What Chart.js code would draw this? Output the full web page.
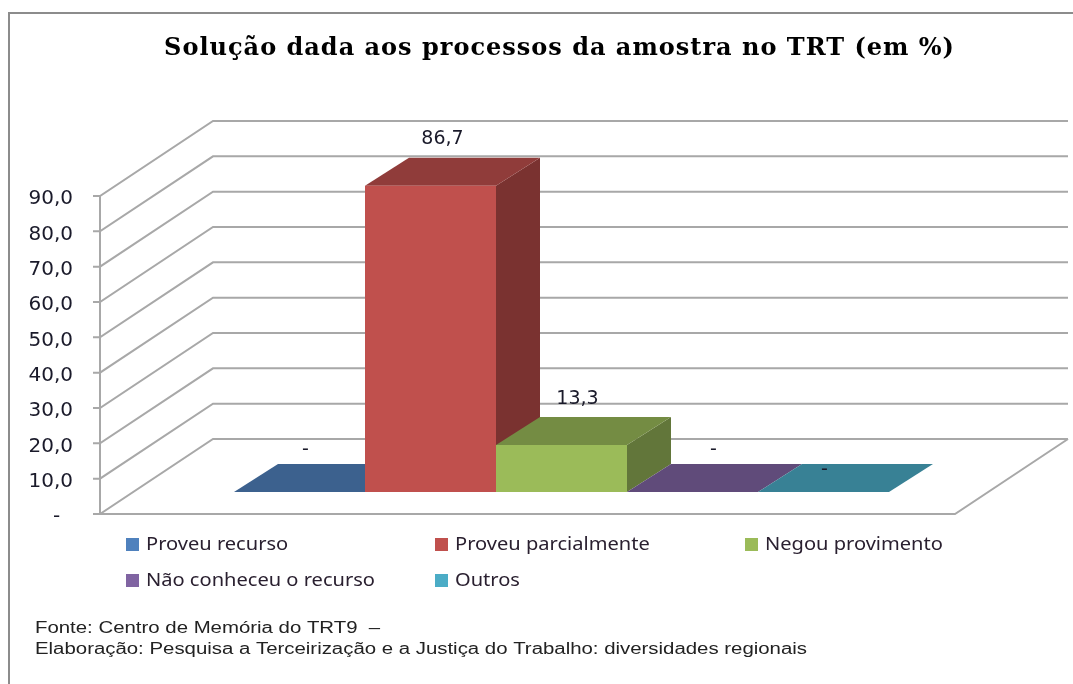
<!DOCTYPE html>
<html><head><meta charset="utf-8">
<style>html,body{margin:0;padding:0;background:#fff}canvas{display:block}</style>
<script src="https://cdn.jsdelivr.net/npm/chart.js@4/dist/chart.umd.min.js"></script>
</head><body><canvas id="c" width="1073" height="684"></canvas>
<script>
const categories = ["Amostra"];
const seriesNames = ["Proveu recurso","Proveu parcialmente","Negou provimento","Não conheceu o recurso","Outros"];
const seriesValues = [0, 86.7, 13.3, 0, 0];
const valueLabels = ["-","86,7","13,3","-","-"];
const frontColors = ["#4F81BD","#C0504D","#9BBB59","#8064A2","#4BACC6"];
const topColors = ["#3C618E","#903C3A","#748C43","#604B7A","#388195"];
const sideColors = ["#325176","#7A3230","#62763A","#503F66","#2F6C7C"];
const titleText = "Solução dada aos processos da amostra no TRT (em %)";
const sourceLines = ["Fonte: Centro de Memória do TRT9  –","Elaboração: Pesquisa a Terceirização e a Justiça do Trabalho: diversidades regionais"];

const DX = 113, DY = 75;          // depth of the 3D box
const BX = 34, BY = 22;           // offset of bar fronts inside the box
const BDX = 44, BDY = 28;         // depth of each bar
const labelOffset = [[6,-42],[12,-47],[16,-46],[21,-42],[1,-22]];
const LINE = "#a8a8a8";
const legendPos = [[126,545],[435,545],[745,545],[126,581],[435,581]];

function poly(ctx, pts, fill){
  ctx.fillStyle = fill; ctx.beginPath();
  pts.forEach((p,i)=> i?ctx.lineTo(p[0],p[1]):ctx.moveTo(p[0],p[1]));
  ctx.closePath(); ctx.fill();
}
function stretched(ctx, text, x, y, sx){
  ctx.save(); ctx.translate(x,y); ctx.scale(sx,1); ctx.fillText(text,0,0); ctx.restore();
}
const box3d = {
  id:"box3d",
  afterLayout(chart){
    const tb = chart.titleBlock;
    if (!tb._wrapped){
      const orig = tb.draw;
      tb.draw = function(){
        chart.ctx.save(); chart.ctx.letterSpacing = "1px";
        orig.apply(tb, arguments);
        chart.ctx.restore();
      };
      tb._wrapped = true;
      tb.left += 82; tb.right += 82;
    }
  },
  beforeDraw(chart){
    const ctx = chart.ctx;
    ctx.save();
    ctx.strokeStyle = "#8c8c8c"; ctx.lineWidth = 2;
    ctx.beginPath(); ctx.moveTo(9,684); ctx.lineTo(9,13); ctx.lineTo(1073,13); ctx.stroke();
    ctx.restore();
  },
  beforeDatasetsDraw(chart){
    const ctx = chart.ctx, y = chart.scales.y, a = chart.chartArea;
    ctx.save();
    ctx.strokeStyle = LINE; ctx.lineWidth = 2; ctx.lineJoin = "miter";
    y.ticks.forEach(t=>{
      const py = y.getPixelForValue(t.value);
      ctx.beginPath();
      ctx.moveTo(a.left-7,py); ctx.lineTo(a.left,py);
      ctx.lineTo(a.left+DX,py-DY); ctx.lineTo(a.right+DX,py-DY);
      ctx.stroke();
    });
    const y0 = y.getPixelForValue(0), y9 = y.getPixelForValue(90);
    ctx.beginPath();
    ctx.moveTo(a.left,y9); ctx.lineTo(a.left,y0); ctx.lineTo(a.right,y0); ctx.lineTo(a.right+DX,y0-DY);
    ctx.stroke();
    // depth faces, left to right, so each one overlaps the previous
    chart.data.datasets.forEach((d,i)=>{
      const b = chart.getDatasetMeta(i).data[0];
      const l = b.x-b.width/2+BX, r = b.x+b.width/2+BX, t = b.y-BY, bt = b.base-BY;
      if (bt-t > 0) poly(ctx,[[r,t],[r+BDX,t-BDY],[r+BDX,bt-BDY],[r,bt]],sideColors[i]);
      poly(ctx,[[l,t],[r,t],[r+BDX,t-BDY],[l+BDX,t-BDY]],topColors[i]);
    });
    ctx.translate(BX,-BY);   // fronts sit inside the box
  },
  afterDatasetsDraw(chart){
    const ctx = chart.ctx;
    ctx.restore();
    ctx.save();
    ctx.font = "19px 'DejaVu Sans'"; ctx.fillStyle = "#1a1a2a";
    ctx.textAlign = "center"; ctx.textBaseline = "middle";
    chart.data.datasets.forEach((d,i)=>{
      const b = chart.getDatasetMeta(i).data[0];
      ctx.fillText(valueLabels[i], b.x+BX+labelOffset[i][0], b.y-BY+labelOffset[i][1]);
    });
    // legend
    ctx.textAlign = "left";
    ctx.font = "18px 'Noto Sans'";
    chart.data.datasets.forEach((d,i)=>{
      const [x,y] = legendPos[i];
      ctx.fillStyle = frontColors[i]; ctx.fillRect(x,y-7,13,13);
      ctx.fillStyle = "#2a2030"; stretched(ctx,d.label,x+20,y,1.115);
    });
    // source
    ctx.font = "16px 'Liberation Sans'"; ctx.fillStyle = "#222";
    stretched(ctx,sourceLines[0],35,629,1.274);
    stretched(ctx,sourceLines[1],35,650,1.274);
    ctx.restore();
  }
};

new Chart(document.getElementById("c"),{
  type:"bar",
  data:{labels:categories,datasets:seriesNames.map((n,i)=>({
    label:n,data:[seriesValues[i]],backgroundColor:frontColors[i],borderWidth:0,
    categoryPercentage:655/855,barPercentage:1
  }))},
  plugins:[box3d],
  options:{
    responsive:false,animation:false,
    layout:{padding:{left:0,right:118,top:0,bottom:170}},
    plugins:{
      legend:{display:false},tooltip:{enabled:false},
      title:{display:true,text:titleText,color:"#000",align:"center",
        font:{family:"'DejaVu Serif'",weight:"bold",size:24,lineHeight:1},
        padding:{top:37,bottom:135}}
    },
    scales:{
      x:{display:false,grid:{display:false}},
      y:{min:0,max:90,
        afterFit(s){s.width=100;},
        grid:{display:false},border:{display:false},
        ticks:{stepSize:10,padding:19,labelOffset:3,color:"#1a1a2a",font:{family:"'DejaVu Sans'",size:20},
          callback:v=> v===0 ? "-  " : v.toFixed(1).replace(".",",")}
      }
    }
  }
});
</script></body></html>
